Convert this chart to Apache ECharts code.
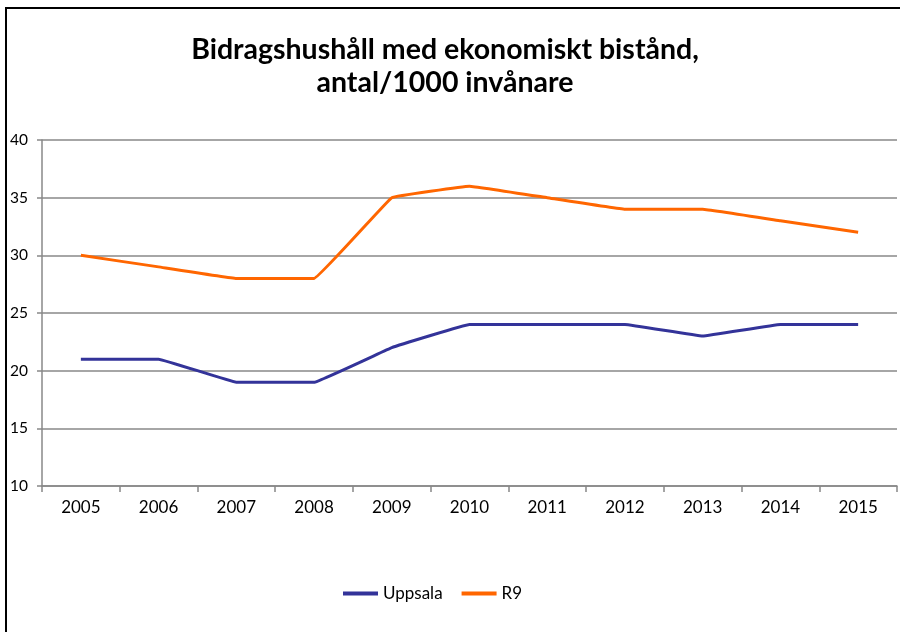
<!DOCTYPE html>
<html>
<head>
<meta charset="utf-8">
<script src="https://cdn.jsdelivr.net/npm/echarts@6/dist/echarts.min.js"></script>
<style>
  html, body { margin: 0; padding: 0; background: #fff; }
  #main { width: 900px; height: 632px; }
</style>
</head>
<body>
<div id="main"></div>
<script>
var years = ['2005', '2006', '2007', '2008', '2009', '2010', '2011', '2012', '2013', '2014', '2015'];
var uppsala = [21, 21, 19, 19, 22, 24, 24, 24, 23, 24, 24];
var r9 = [30, 29, 28, 28, 35, 36, 35, 34, 34, 33, 32];

var myChart = echarts.init(document.getElementById('main'));
var font = 'Lato, "Open Sans", sans-serif';

var option = {
    animation: false,
    textStyle: { fontFamily: font },
    title: {
        text: 'Bidragshushåll med ekonomiskt bistånd,\nantal/1000 invånare',
        left: 440,
        top: 28,
        textAlign: 'center',
        textStyle: {
            fontFamily: font,
            fontWeight: 'bold',
            fontSize: 28.5,
            lineHeight: 33,
            color: '#000'
        }
    },
    graphic: [{
        type: 'rect',
        shape: { x: 6, y: 8, width: 1000, height: 1000 },
        style: { fill: 'none', stroke: '#000', lineWidth: 2 },
        silent: true
    }],
    legend: {
        data: ['Uppsala', 'R9'],
        left: 338,
        top: 580,
        itemWidth: 35,
        itemHeight: 4,
        itemGap: 19,
        icon: 'rect',
        textStyle: { fontFamily: font, fontSize: 17, color: '#000' }
    },
    grid: {
        left: 42,
        right: 3,
        top: 140,
        bottom: 146
    },
    xAxis: {
        type: 'category',
        data: years,
        boundaryGap: true,
        axisLine: { lineStyle: { color: '#888', width: 1.5 } },
        axisTick: { show: true, length: 6, lineStyle: { color: '#888', width: 1.5 } },
        axisLabel: { color: '#000', fontSize: 17, margin: 13, fontFamily: font }
    },
    yAxis: {
        type: 'value',
        min: 10,
        max: 40,
        interval: 5,
        axisLine: { show: true, lineStyle: { color: '#888', width: 1.5 } },
        axisTick: { show: true, length: 5, lineStyle: { color: '#888', width: 1.5 } },
        splitLine: { lineStyle: { color: '#888', width: 1.5 } },
        axisLabel: { color: '#000', fontSize: 15.5, margin: 14, fontFamily: font }
    },
    series: [
        {
            name: 'Uppsala',
            type: 'line',
            data: uppsala,
            symbol: 'none',
            smooth: 0.05,
            lineStyle: { color: '#333399', width: 3 },
            itemStyle: { color: '#333399' }
        },
        {
            name: 'R9',
            type: 'line',
            data: r9,
            symbol: 'none',
            smooth: 0.05,
            lineStyle: { color: '#ff6600', width: 3 },
            itemStyle: { color: '#ff6600' }
        }
    ]
};
myChart.setOption(option);
</script>
</body>
</html>
